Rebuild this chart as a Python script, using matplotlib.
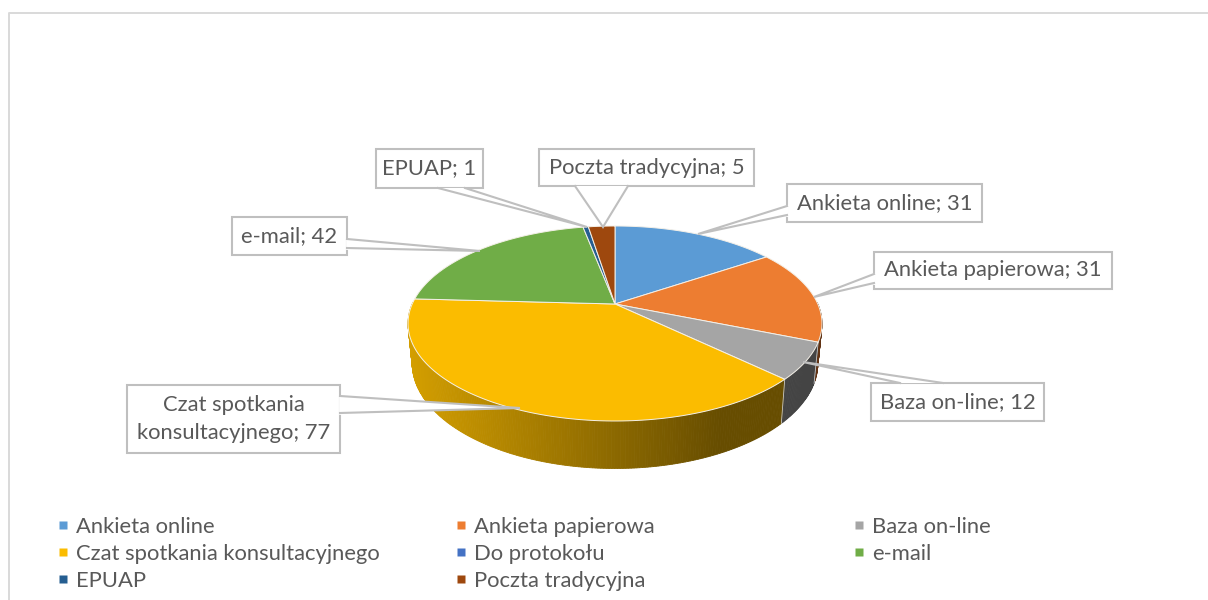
import numpy as np
import matplotlib
matplotlib.use("Agg")
import matplotlib.pyplot as plt
from matplotlib.colors import to_rgb

plt.rcParams["font.family"] = ["Lato", "DejaVu Sans"]

# data
names = ["Ankieta online", "Ankieta papierowa", "Baza on-line",
         "Czat spotkania konsultacyjnego", "Do protokołu", "e-mail",
         "EPUAP", "Poczta tradycyjna"]
values = [31, 31, 12, 77, 0, 42, 1, 5]
colors = ["#5B9BD5", "#ED7D31", "#A5A5A5", "#FBBC00",
          "#4472C4", "#70AD47", "#255E91", "#9E480E"]

TEXT = "#595959"
LINE = "#BFBFBF"
FONT = 15.8

# geometry of the tilted pie, in picture pixels
CX, CY = 615, 304
R, B, A = 202.8, 93.6, 0.2
DEPTH = 38
LOW_SCALE = 0.98


def rim(theta):
    """Project an angle on the pie rim to picture pixels."""
    u, v = np.cos(theta), np.sin(theta)
    w = 1 + A * v
    return CX + R * u / w, CY - B * v / w


def rim_low(theta):
    x, y = rim(theta)
    return CX + (x - CX) * LOW_SCALE, y + DEPTH / (1 + A * np.sin(theta))


def shade(x):
    return np.interp(x, [410, 720], [0.84, 0.41])


fig = plt.figure(figsize=(12.08, 6), dpi=100)
ax = fig.add_axes([0, 0, 1, 1])
ax.set_xlim(0, 1208)
ax.set_ylim(600, 0)
ax.axis("off")

# chart frame
ax.plot([9, 9, 1208], [600, 13, 13], color="#D9D9D9", lw=1.4, zorder=1)

# slice angles, clockwise from the top
edges = np.pi / 2 - 2 * np.pi * np.cumsum([0] + values) / sum(values)

# side wall, front half only
for i, val in enumerate(values):
    if val == 0:
        continue
    lo, hi = edges[i + 1], edges[i]
    ts = np.linspace(hi, lo, max(int((hi - lo) * 90), 2))
    for t0, t1 in zip(ts[:-1], ts[1:]):
        if np.sin((t0 + t1) / 2) > 0.02:
            continue
        x0, y0 = rim(t0)
        x1, y1 = rim(t1)
        x2, y2 = rim_low(t1)
        x3, y3 = rim_low(t0)
        c = np.array(to_rgb(colors[i])) * shade((x0 + x1) / 2)
        ax.fill([x0, x1, x2, x3], [y0, y1, y2, y3], color=c, lw=0.6, zorder=2)
    # lighter line where the slices meet on the wall
    if np.sin(hi) < 0:
        ax.plot(*zip(rim(hi), rim_low(hi)), color="#C9C9C9", lw=0.6, zorder=3)

# top face
for i, val in enumerate(values):
    if val == 0:
        continue
    ts = np.linspace(edges[i], edges[i + 1], 120)
    xs, ys = rim(ts)
    ax.fill(np.r_[CX, xs], np.r_[CY, ys], facecolor=colors[i],
            edgecolor="#F4F0E8", lw=0.7, zorder=4)

# data label callouts: box (x0, y0, x1, y1) and outline of the tail
callouts = {
    "Ankieta online": ((787, 184, 982, 222), [(787, 206), (698, 234), (787, 215)]),
    "Ankieta papierowa": ((874, 252, 1112, 289), [(874, 274), (814, 297), (874, 283)]),
    "Baza on-line": ((871, 383, 1044, 421), [(943, 383), (803, 362), (900, 383)]),
    "Czat spotkania konsultacyjnego": ((127, 385, 340, 453), [(340, 396), (520, 408), (340, 413)]),
    "e-mail": ((232, 217, 347, 255), [(347, 239), (480, 251), (347, 248)]),
    "EPUAP": ((376, 149, 483, 188), [(438, 188), (587, 227), (465, 188)]),
    "Poczta tradycyjna": ((539, 149, 754, 186), [(575, 186), (603, 227), (628, 186)]),
}
for name, val in zip(names, values):
    if name not in callouts:
        continue
    (x0, y0, x1, y1), tail = callouts[name]
    ax.fill([x0, x1, x1, x0], [y0, y0, y1, y1], facecolor="white",
            edgecolor=LINE, lw=1.5, zorder=5)
    tx, ty = zip(*tail)
    ax.fill(tx, ty, facecolor="white", edgecolor="none", zorder=6)
    ax.plot([tx[0], tx[0]], [ty[0], ty[2]], color="white", lw=2, zorder=6)
    ax.plot(tx, ty, color=LINE, lw=1.5, zorder=6, solid_joinstyle="miter")
    label = f"{name}; {val}"
    if name.startswith("Czat"):
        label = f"Czat spotkania\nkonsultacyjnego; {val}"
    ax.text((x0 + x1) / 2, (y0 + y1) / 2, label, color=TEXT, fontsize=FONT,
            ha="center", va="center", linespacing=1.48, zorder=7)

# legend, three columns filled row by row
col_x = [63, 461, 859]
row_y = [525, 552, 579]
for i, (name, col) in enumerate(zip(names, colors)):
    x = col_x[i % 3]
    y = row_y[i // 3]
    ax.plot([x], [y], marker="s", ms=5.5, color=col, mec="none", zorder=5)
    ax.text(x + 13, y, name, color=TEXT, fontsize=FONT, ha="left",
            va="center_baseline", zorder=5)

fig.savefig("out.png", dpi=100)
plt.close(fig)
